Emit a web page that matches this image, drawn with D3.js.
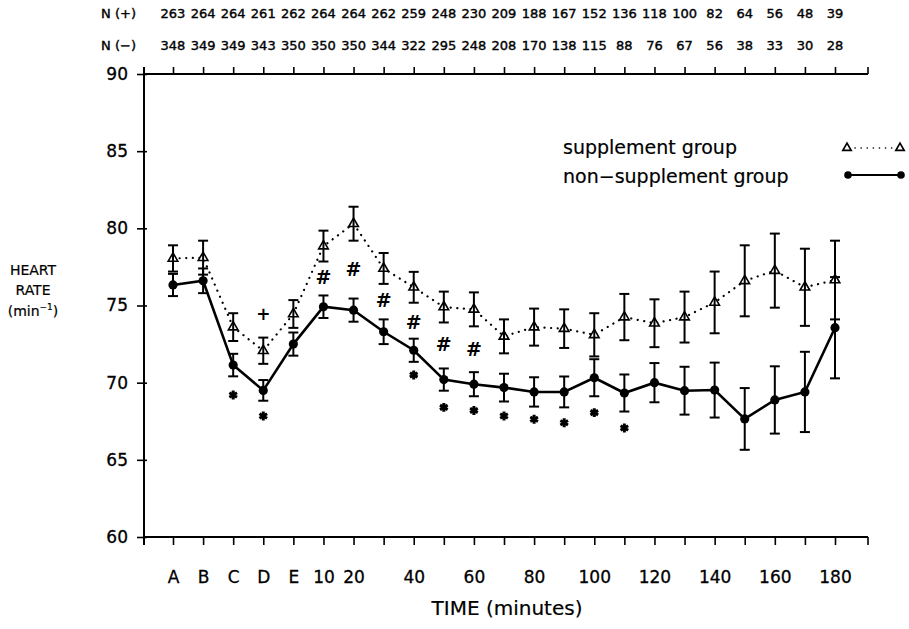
<!DOCTYPE html>
<html><head><meta charset="utf-8">
<script src="https://cdn.jsdelivr.net/npm/d3@7"></script>
<style>
body{margin:0;background:#fff}
svg{display:block}
text{font-family:"DejaVu Sans",sans-serif;fill:#000}
</style>
</head><body>
<svg id="chart" width="909" height="629"></svg>
<script>
const categories = ["A","B","C","D","E","10","20","30","40","50","60","70","80","90","100","110","120","130","140","150","160","170","180"];
const tickLabels = ["A","B","C","D","E","10","20","","40","","60","","80","","100","","120","","140","","160","","180"];
const yTicks = [60,65,70,75,80,85,90];
const nPlus  = [263,264,264,261,262,264,264,262,259,248,230,209,188,167,152,136,118,100,82,64,56,48,39];
const nMinus = [348,349,349,343,350,350,350,344,322,295,248,208,170,138,115,88,76,67,56,38,33,30,28];
const suppMean = [78.05,78.1,73.6,72.07,74.45,78.85,80.3,77.4,76.18,74.9,74.75,73.0,73.6,73.5,73.1,74.25,73.85,74.25,75.2,76.6,77.26,76.18,76.65];
const suppSE   = [0.85,1.1,0.9,0.85,0.9,1.0,1.1,1.0,1.0,1.0,1.1,1.1,1.2,1.25,1.4,1.5,1.55,1.65,2.0,2.3,2.4,2.5,2.55];
const nonMean  = [76.33,76.6,71.14,69.5,72.5,74.92,74.7,73.3,72.1,70.2,69.9,69.68,69.4,69.4,70.32,69.33,70.0,69.48,69.52,67.65,68.88,69.4,73.56];
const nonSE    = [0.72,0.8,0.73,0.67,0.75,0.73,0.75,0.8,0.75,0.72,0.78,0.9,0.95,1.0,1.2,1.2,1.27,1.55,1.78,2.0,2.18,2.6,3.28];
const hashCats = ["10","20","30","40","50","60"];
const hashPos  = [76.87,77.37,75.36,73.95,72.5,72.16];
const starCats = ["C","D","40","50","60","70","80","90","100","110"];
const starPos  = [69.2,67.84,70.5,68.4,68.2,67.84,67.63,67.4,68.06,67.06];
const plusCats = ["D"];
const plusPos  = [74.45];

const svg = d3.select("#chart");
const L = 144, R = 868, T = 74, B = 537;
const x = d3.scalePoint().domain(categories).range([L + 29, R - 33]);
const y = d3.scaleLinear().domain([60, 90]).range([B, T]);

// axes
const ax = svg.append("g").attr("stroke","#000").attr("fill","none");
const topAxis = svg.append("g").attr("transform",`translate(0,${T})`)
  .call(d3.axisTop(x).tickSize(7).tickFormat(""));
const botAxis = svg.append("g").attr("transform",`translate(0,${B})`)
  .call(d3.axisBottom(x).tickSize(8).tickPadding(26).tickFormat((d,i)=>tickLabels[i]));
[topAxis, botAxis].forEach(g=>{
  g.select(".domain").remove();
  g.selectAll("line").attr("stroke","#000").attr("stroke-width",1.6);
});
botAxis.selectAll("text").attr("font-size",17).attr("font-family","DejaVu Sans")
  .attr("stroke","#000").attr("stroke-width",0.3);
ax.append("line").attr("x1",L).attr("x2",R).attr("y1",T).attr("y2",T).attr("stroke-width",1.8);
ax.append("line").attr("x1",L).attr("x2",R).attr("y1",B).attr("y2",B).attr("stroke-width",1.8);
ax.append("line").attr("x1",L).attr("x2",L).attr("y1",T-7).attr("y2",B+8).attr("stroke-width",2);
ax.append("line").attr("x1",R).attr("x2",R).attr("y1",T-7).attr("y2",T).attr("stroke-width",1.6);
ax.append("line").attr("x1",R).attr("x2",R).attr("y1",B).attr("y2",B+8).attr("stroke-width",1.6);

const leftAxis = svg.append("g").attr("transform",`translate(${L},0)`)
  .call(d3.axisLeft(y).tickValues(yTicks).tickSize(7).tickPadding(9).tickFormat(d3.format("d")));
leftAxis.select(".domain").remove();
leftAxis.selectAll("line").attr("stroke","#000").attr("stroke-width",1.6).attr("x1",3);
leftAxis.selectAll("text").attr("font-size",17).attr("font-family","DejaVu Sans")
  .attr("stroke","#000").attr("stroke-width",0.3);

// N rows
const nr = svg.append("g").attr("font-size",13).attr("stroke","#000").attr("stroke-width",0.4);
nr.append("text").attr("x",136).attr("y",18).attr("text-anchor","end").text("N (+)");
nr.append("text").attr("x",136).attr("y",50).attr("text-anchor","end").text("N (−)");
nr.append("g").selectAll("text").data(nPlus).join("text")
  .attr("x",(d,i)=>x(categories[i])).attr("y",18).attr("text-anchor","middle").text(d=>d);
nr.append("g").selectAll("text").data(nMinus).join("text")
  .attr("x",(d,i)=>x(categories[i])).attr("y",50).attr("text-anchor","middle").text(d=>d);

// y label
const yl = svg.append("g").attr("font-size",14).attr("stroke","#000").attr("stroke-width",0.2);
yl.append("text").attr("x",33).attr("y",275).attr("text-anchor","middle").text("HEART");
yl.append("text").attr("x",33).attr("y",295).attr("text-anchor","middle").text("RATE");
const ml = yl.append("text").attr("x",33).attr("y",316).attr("text-anchor","middle");
ml.append("tspan").text("(min");
ml.append("tspan").attr("font-size",9).attr("dy",-6).text("−1");
ml.append("tspan").attr("dy",6).text(")");

// x title
svg.append("text").attr("x",507).attr("y",615).attr("text-anchor","middle").attr("font-size",20)
  .attr("stroke","#000").attr("stroke-width",0.2).text("TIME  (minutes)");

// lines
const supp = categories.map((c,i)=>({c, m:suppMean[i], se:suppSE[i]}));
const non = categories.map((c,i)=>({c, m:nonMean[i], se:nonSE[i]}));
const line = d3.line().x(d=>x(d.c)).y(d=>y(d.m));
svg.append("path").datum(supp).attr("d",line).attr("fill","none").attr("stroke","#000")
  .attr("stroke-width",2.2).attr("stroke-linecap","round").attr("stroke-dasharray","0.1 6.5");
svg.append("path").datum(non).attr("d",line).attr("fill","none").attr("stroke","#000").attr("stroke-width",2.6);

// triangles
const tri = d3.symbol().type(d3.symbolTriangle).size(40);
svg.append("g").selectAll("path").data(supp).join("path")
  .attr("transform",d=>`translate(${x(d.c)},${y(d.m)})`).attr("d",tri)
  .attr("fill","#fff").attr("stroke","#000").attr("stroke-width",1.6);

// error bars
function errBars(data){
  const g = svg.append("g").attr("stroke","#000").attr("stroke-width",2);
  g.selectAll(".v").data(data).join("line")
    .attr("x1",d=>x(d.c)).attr("x2",d=>x(d.c)).attr("y1",d=>y(d.m-d.se)).attr("y2",d=>y(d.m+d.se));
  g.selectAll(".t").data(data).join("line")
    .attr("x1",d=>x(d.c)-5).attr("x2",d=>x(d.c)+5).attr("y1",d=>y(d.m+d.se)).attr("y2",d=>y(d.m+d.se));
  g.selectAll(".b").data(data).join("line")
    .attr("x1",d=>x(d.c)-5).attr("x2",d=>x(d.c)+5).attr("y1",d=>y(d.m-d.se)).attr("y2",d=>y(d.m-d.se));
}
errBars(supp);
errBars(non);

// circles
svg.append("g").selectAll("circle").data(non).join("circle")
  .attr("cx",d=>x(d.c)).attr("cy",d=>y(d.m)).attr("r",4.6).attr("fill","#000");

// annotations
svg.append("g").selectAll("text").data(hashCats).join("text")
  .attr("x",d=>x(d)).attr("y",(d,i)=>y(hashPos[i])+7).attr("text-anchor","middle")
  .attr("font-size",19).attr("font-weight","bold").text("#");
svg.append("g").selectAll("text").data(plusCats).join("text")
  .attr("x",d=>x(d)).attr("y",(d,i)=>y(plusPos[i])+6).attr("text-anchor","middle")
  .attr("font-size",17).attr("font-weight","bold").text("+");
const star = d3.symbol().type(d3.symbolAsterisk).size(55);
svg.append("g").selectAll("path").data(starCats).join("path")
  .attr("transform",(d,i)=>`translate(${x(d)},${y(starPos[i])})`).attr("d",star)
  .attr("fill","none").attr("stroke","#000").attr("stroke-width",3);

// legend
const lg = svg.append("g");
lg.append("text").attr("x",563).attr("y",154).attr("font-size",19).attr("stroke","#000").attr("stroke-width",0.2).text("supplement group");
lg.append("text").attr("x",563).attr("y",183).attr("font-size",19).attr("stroke","#000").attr("stroke-width",0.2).text("non−supplement group");
lg.append("line").attr("x1",855).attr("x2",893).attr("y1",148).attr("y2",148).attr("stroke","#000")
  .attr("stroke-width",1.6).attr("stroke-linecap","round").attr("stroke-dasharray","0.1 6");
lg.append("line").attr("x1",848).attr("x2",901).attr("y1",175).attr("y2",175).attr("stroke","#000").attr("stroke-width",2);
const lt = d3.symbol().type(d3.symbolTriangle).size(30);
[847,900].forEach(px=>{
  lg.append("path").attr("transform",`translate(${px},148)`).attr("d",lt).attr("fill","#fff").attr("stroke","#000").attr("stroke-width",1.7);
  lg.append("circle").attr("cx",px+1).attr("cy",175).attr("r",3.8).attr("fill","#000");
});
</script>
</body></html>
